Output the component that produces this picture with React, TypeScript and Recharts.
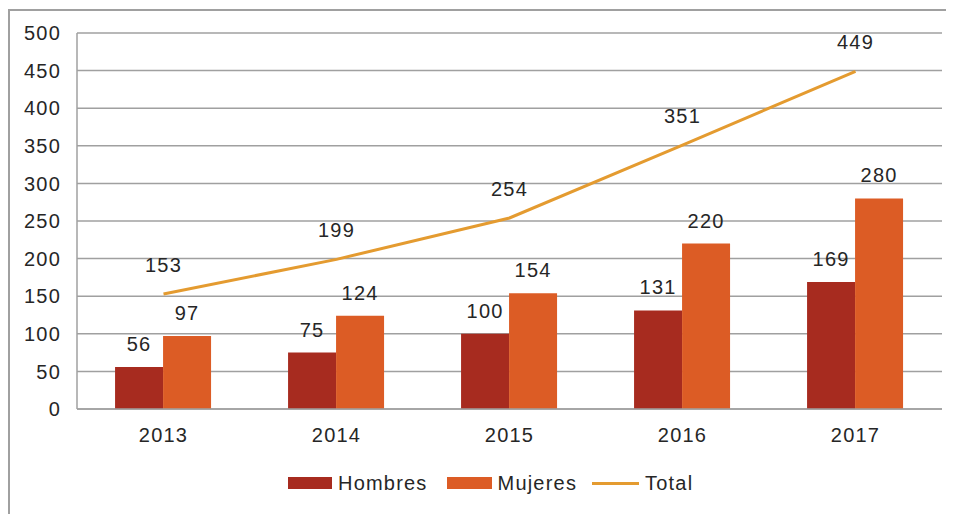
import {
  ComposedChart,
  Bar,
  Line,
  XAxis,
  YAxis,
  CartesianGrid,
  Legend,
  LabelList,
} from 'recharts'

const years = ['2013', '2014', '2015', '2016', '2017']
const hombres = [56, 75, 100, 131, 169]
const mujeres = [97, 124, 154, 220, 280]
const total = [153, 199, 254, 351, 449]
const yTicks = [0, 50, 100, 150, 200, 250, 300, 350, 400, 450, 500]

const data = years.map((year, i) => ({
  year,
  hombres: hombres[i],
  mujeres: mujeres[i],
  total: total[i],
}))

const FONT = '"Liberation Sans", Arial, Helvetica, sans-serif'
const TEXT = '#262626'
const GRID = '#a0a0a0'
const HOMBRES = '#a72b1f'
const MUJERES = '#dc5c25'
const TOTAL = '#e49b30'

const labelStyle = { fill: TEXT, fontSize: 20, fontFamily: FONT, letterSpacing: 1.2 }

function ChartLegend() {
  const item = (swatch: React.ReactNode, text: string, gap: number) => (
    <div style={{ display: 'flex', alignItems: 'center', marginRight: gap }}>
      {swatch}
      <span style={{ marginLeft: 6, letterSpacing: 1.2 }}>{text}</span>
    </div>
  )
  return (
    <div
      style={{
        display: 'flex',
        alignItems: 'center',
        height: 24,
        fontFamily: FONT,
        fontSize: 20,
        color: TEXT,
        whiteSpace: 'nowrap',
      }}
    >
      {item(<div style={{ width: 44, height: 12, background: HOMBRES }} />, 'Hombres', 19)}
      {item(<div style={{ width: 45, height: 12, background: MUJERES }} />, 'Mujeres', 15)}
      {item(<div style={{ width: 47, height: 3, background: TOTAL }} />, 'Total', 0)}
    </div>
  )
}

export default function App() {
  return (
    <div
      style={{
        position: 'relative',
        top: 1,
        width: 946,
        height: 506,
        borderTop: `2px solid ${GRID}`,
        borderLeft: `2px solid ${GRID}`,
        boxSizing: 'border-box',
        background: '#fff',
      }}
    >
      <ComposedChart
        width={944}
        height={504}
        data={data}
        margin={{ top: 22, right: 12, bottom: 66, left: 0 }}
        barCategoryGap="22%"
        barGap={0}
      >
        <CartesianGrid horizontal vertical={false} stroke={GRID} strokeWidth={1.5} />
        <XAxis
          dataKey="year"
          axisLine={{ stroke: GRID, strokeWidth: 1.5 }}
          tickLine={false}
          tickSize={0}
          tickMargin={19}
          height={40}
          tick={labelStyle}
        />
        <YAxis
          domain={[0, 500]}
          ticks={yTicks}
          interval={0}
          width={67}
          axisLine={{ stroke: GRID, strokeWidth: 1.5 }}
          tickLine={false}
          tickSize={0}
          tickMargin={16}
          tick={labelStyle}
        />
        <Legend
          verticalAlign="middle"
          align="center"
          wrapperStyle={{ top: 460, left: 278, width: 'auto' }}
          content={() => <ChartLegend />}
        />
        <Bar dataKey="hombres" name="Hombres" fill={HOMBRES} isAnimationActive={false}>
          <LabelList dataKey="hombres" position="top" offset={16} style={labelStyle} />
        </Bar>
        <Bar dataKey="mujeres" name="Mujeres" fill={MUJERES} isAnimationActive={false}>
          <LabelList dataKey="mujeres" position="top" offset={16} style={labelStyle} />
        </Bar>
        <Line
          type="linear"
          dataKey="total"
          name="Total"
          stroke={TOTAL}
          strokeWidth={3}
          dot={false}
          activeDot={false}
          isAnimationActive={false}
        >
          <LabelList dataKey="total" position="top" offset={22} style={labelStyle} />
        </Line>
      </ComposedChart>
    </div>
  )
}
